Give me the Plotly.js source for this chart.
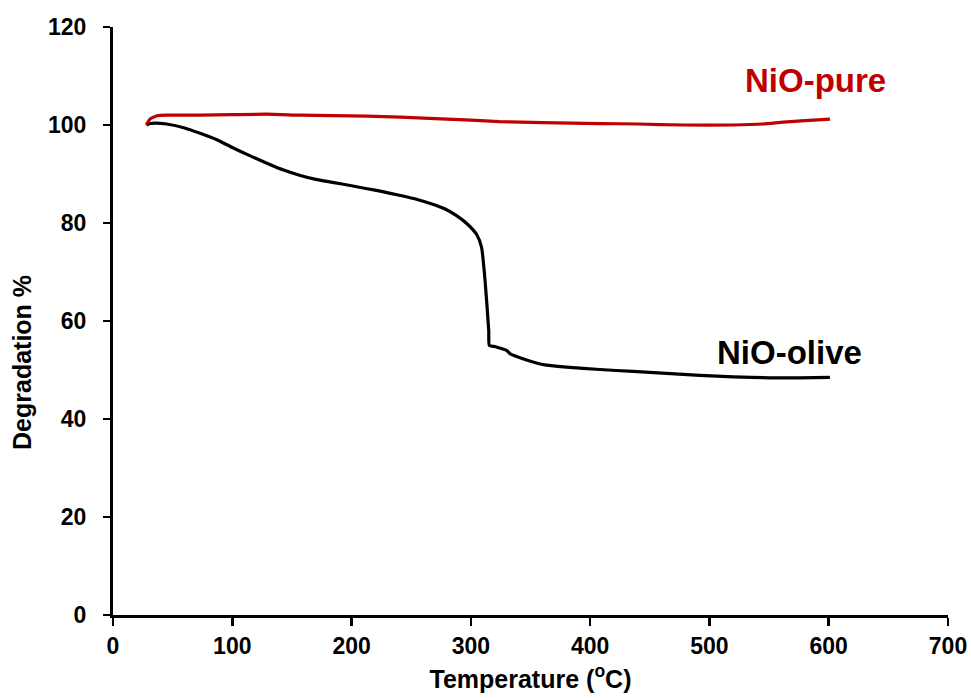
<!DOCTYPE html>
<html><head><meta charset="utf-8">
<script src="https://cdn.plot.ly/plotly-3.0.1.min.js"></script>
<style>body{margin:0;background:#fff}#c{width:971px;height:698px}</style>
</head><body><div id="c"></div>
<script>
var oliveT = [28, 31, 35, 45, 60, 73, 87, 100, 115, 129, 143, 157, 170, 184, 200, 213, 224, 241, 255, 266, 278, 288, 297, 305, 309, 312, 315, 315.5, 320, 324, 330, 333, 340, 350, 361, 380, 408, 436, 464, 492, 520, 550, 575, 601];
var oliveY = [100.0, 100.3, 100.4, 100.2, 99.4, 98.3, 97.0, 95.4, 93.7, 92.2, 90.8, 89.7, 88.9, 88.3, 87.6, 87.0, 86.5, 85.6, 84.8, 84.0, 82.9, 81.5, 79.8, 77.6, 75.0, 68.0, 58.0, 55.0, 54.8, 54.5, 54.0, 53.3, 52.6, 51.8, 51.1, 50.6, 50.1, 49.7, 49.3, 48.9, 48.6, 48.4, 48.4, 48.5];
var pureT = [28, 29, 31, 34, 37, 45, 73, 100, 129, 157, 184, 213, 241, 270, 300, 324, 360, 408, 440, 478, 520, 545, 562, 580, 601];
var pureY = [100.0, 100.5, 101.2, 101.6, 101.9, 102.0, 102.0, 102.1, 102.2, 102.0, 101.9, 101.8, 101.6, 101.3, 101.0, 100.7, 100.5, 100.3, 100.2, 100.0, 100.0, 100.2, 100.6, 100.9, 101.2];
var xTicks = [0, 100, 200, 300, 400, 500, 600, 700];
var yTicks = [0, 20, 40, 60, 80, 100, 120];

var FF = 'Liberation Sans, Arial, sans-serif';
var traces = [
  {x: oliveT, y: oliveY, mode: 'lines', line: {color: '#000000', width: 3.2, shape: 'spline', smoothing: 0.5}, name: 'NiO-olive', showlegend: false},
  {x: pureT, y: pureY, mode: 'lines', line: {color: '#C00000', width: 3.2, shape: 'spline', smoothing: 0.5}, name: 'NiO-pure', showlegend: false}
];
var layout = {
  width: 971, height: 698,
  margin: {l: 113, r: 23, t: 27, b: 83},
  paper_bgcolor: '#fff', plot_bgcolor: '#fff',
  font: {family: FF, color: '#000'},
  xaxis: {
    range: [0, 700], tickvals: xTicks, ticktext: xTicks.map(function(v){return '<b>' + v + '</b>';}),
    showgrid: false, zeroline: false, showline: true, linecolor: '#000', linewidth: 3,
    ticks: 'outside', ticklen: 8, tickwidth: 2.5, tickcolor: '#000',
    tickfont: {family: FF, size: 23, color: '#000'},
    title: {text: '<b>Temperature (<sup>o</sup>C)</b>', font: {family: FF, size: 25, color: '#000'}, standoff: 13}
  },
  yaxis: {
    range: [0, 120], tickvals: yTicks, ticktext: yTicks.map(function(v){return '<b>' + v + '</b>';}),
    showgrid: false, zeroline: false, showline: true, linecolor: '#000', linewidth: 3,
    ticks: 'outside', ticklen: 7, tickwidth: 2.5, tickcolor: '#000', ticklabelstandoff: 12,
    tickfont: {family: FF, size: 23, color: '#000'}
  },
  annotations: [
    {x: 22, y: 0.4286, xref: 'paper', yref: 'paper', xanchor: 'center', yanchor: 'middle', textangle: -90, text: '<b>Degradation %</b>', showarrow: false, font: {family: FF, size: 25, color: '#000'}},
    {x: 589, y: 109, xref: 'x', yref: 'y', text: '<b>NiO-pure</b>', showarrow: false, xanchor: 'center', yanchor: 'middle', font: {family: FF, size: 33, color: '#C00000'}},
    {x: 567, y: 53.5, xref: 'x', yref: 'y', text: '<b>NiO-olive</b>', showarrow: false, xanchor: 'center', yanchor: 'middle', font: {family: FF, size: 33, color: '#000'}}
  ]
};
// place y-title annotation at pixel x=22 (convert to paper coords)
layout.annotations[0].x = (22 - 113) / (971 - 113 - 23);
Plotly.newPlot('c', traces, layout, {displayModeBar: false, staticPlot: true});
</script></body></html>
